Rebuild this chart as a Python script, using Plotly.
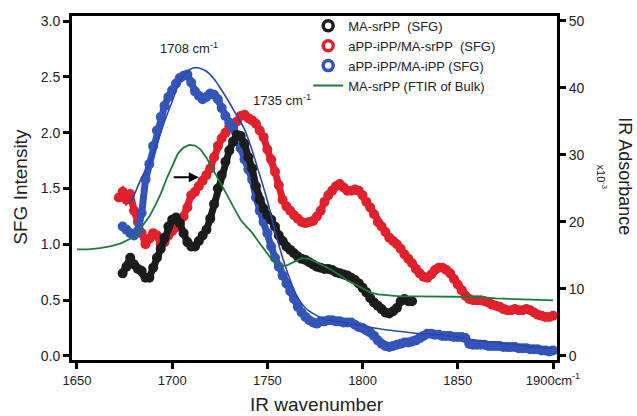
import plotly.graph_objects as go

# ---------------- data ----------------
black_x = list(range(1674, 1827, 2))
black_y = [0.74, 0.80, 0.88, 0.82, 0.78, 0.76, 0.70, 0.70, 0.79, 0.88, 0.96, 1.06, 1.16, 1.22, 1.24, 1.19,
           1.10, 1.02, 0.98, 0.98, 1.03, 1.08, 1.13, 1.23, 1.36, 1.50, 1.62, 1.74, 1.84, 1.92, 1.98, 1.97,
           1.90, 1.78, 1.68, 1.52, 1.40, 1.32, 1.26, 1.22, 1.16, 1.08, 1.03, 0.98, 0.95, 0.92, 0.89, 0.87,
           0.86, 0.84, 0.82, 0.80, 0.79, 0.78, 0.78, 0.77, 0.75, 0.74, 0.73, 0.72, 0.70, 0.68, 0.65, 0.61,
           0.57, 0.52, 0.48, 0.45, 0.42, 0.39, 0.38, 0.40, 0.43, 0.49, 0.51, 0.49, 0.49]

red_x = list(range(1672, 1901, 2))
red_y = [1.42, 1.47, 1.40, 1.45, 1.30, 1.20, 1.10, 1.00, 1.05, 1.10, 1.08, 1.00, 1.02, 1.08, 1.12, 1.15,
         1.18, 1.25, 1.33, 1.44, 1.47, 1.52, 1.57, 1.62, 1.68, 1.78, 1.88, 1.95, 2.00, 2.05, 2.08, 2.10,
         2.15, 2.16, 2.13, 2.11, 2.08, 2.02, 1.96, 1.85, 1.76, 1.65, 1.53, 1.40, 1.34, 1.30, 1.26, 1.23,
         1.20, 1.19, 1.20, 1.21, 1.25, 1.30, 1.38, 1.44, 1.48, 1.52, 1.54, 1.51, 1.48, 1.48, 1.49, 1.48,
         1.44, 1.38, 1.33, 1.27, 1.20, 1.16, 1.11, 1.06, 1.03, 1.00, 0.96, 0.91, 0.87, 0.83, 0.78, 0.74,
         0.71, 0.70, 0.73, 0.77, 0.79, 0.79, 0.77, 0.74, 0.69, 0.64, 0.59, 0.54, 0.51, 0.50, 0.50, 0.50,
         0.49, 0.48, 0.46, 0.45, 0.44, 0.42, 0.41, 0.41, 0.42, 0.41, 0.41, 0.42, 0.41, 0.39, 0.37, 0.36,
         0.35, 0.35, 0.36]

blue_x = list(range(1674, 1901, 2))
blue_y = [1.16, 1.13, 1.10, 1.08, 1.12, 1.28, 1.58, 1.72, 1.88, 2.02, 2.14, 2.24, 2.32, 2.38, 2.44, 2.49,
          2.51, 2.52, 2.45, 2.37, 2.33, 2.30, 2.32, 2.35, 2.34, 2.30, 2.22, 2.15, 2.09, 2.04, 1.96, 1.86,
          1.76, 1.67, 1.58, 1.42, 1.30, 1.20, 1.10, 0.98, 0.88, 0.80, 0.72, 0.65, 0.58, 0.51, 0.44, 0.39,
          0.35, 0.32, 0.30, 0.29, 0.31, 0.31, 0.32, 0.32, 0.31, 0.31, 0.30, 0.30, 0.30, 0.28, 0.26, 0.25,
          0.23, 0.21, 0.18, 0.14, 0.11, 0.09, 0.08, 0.09, 0.10, 0.11, 0.12, 0.12, 0.13, 0.14, 0.16, 0.18,
          0.20, 0.20, 0.19, 0.19, 0.18, 0.18, 0.18, 0.17, 0.17, 0.17, 0.16, 0.11, 0.10, 0.10, 0.10, 0.10,
          0.09, 0.09, 0.09, 0.09, 0.08, 0.08, 0.08, 0.08, 0.07, 0.07, 0.07, 0.06, 0.06, 0.06, 0.05, 0.05,
          0.04, 0.05, 0.09]

blue_fit_x = [1678, 1681, 1684, 1688, 1692, 1696, 1700, 1704, 1708, 1711, 1714, 1718, 1722, 1726, 1730,
              1734, 1738, 1742, 1746, 1750, 1754, 1758, 1762, 1766, 1770, 1775, 1780, 1790, 1800, 1810,
              1820, 1830, 1840, 1850, 1860, 1870, 1880, 1890, 1900]
blue_fit_y = [1.37, 1.48, 1.60, 1.72, 1.90, 2.10, 2.28, 2.46, 2.55, 2.58, 2.58, 2.55, 2.48, 2.38, 2.27,
              2.15, 2.03, 1.84, 1.62, 1.39, 1.12, 0.88, 0.68, 0.52, 0.43, 0.37, 0.33, 0.30, 0.27, 0.24,
              0.22, 0.20, 0.19, 0.17, 0.14, 0.12, 0.10, 0.08, 0.07]

green_x = [1650, 1656, 1662, 1668, 1673, 1678, 1682, 1685, 1688, 1691, 1694, 1697, 1700, 1703, 1706,
           1709, 1712, 1715, 1718, 1721, 1724, 1727, 1730, 1733, 1736, 1739, 1742, 1745, 1748, 1751,
           1754, 1757, 1760, 1764, 1768, 1772, 1776, 1780, 1784, 1788, 1792, 1796, 1800, 1804, 1808,
           1813, 1820, 1830, 1840, 1850, 1860, 1870, 1880, 1890, 1900]
green_y = [15.9, 15.9, 16.1, 16.4, 16.8, 17.5, 18.5, 19.6, 20.8, 22.4, 24.2, 26.4, 28.4, 30.2, 31.1,
           31.5, 31.4, 30.8, 29.6, 28.1, 26.5, 25.0, 23.4, 21.8, 20.3, 19.3, 18.4, 17.2, 16.0, 14.9,
           13.9, 13.4, 13.5, 14.1, 14.6, 14.5, 14.0, 13.4, 12.8, 12.0, 11.3, 10.7, 10.1, 9.5, 9.2,
           9.1, 8.9, 8.9, 8.9, 8.8, 8.8, 8.6, 8.5, 8.4, 8.3]

legend_names = ["MA-srPP  (SFG)", "aPP-iPP/MA-srPP  (SFG)", "aPP-iPP/MA-iPP (SFG)", "MA-srPP (FTIR of Bulk)"]
x_ticks = [1650, 1700, 1750, 1800, 1850, 1900]
x_ticktext = ["1650", "1700", "1750", "1800", "1850", "1900cm<sup>-1</sup>"]
y_ticks = [0.0, 0.5, 1.0, 1.5, 2.0, 2.5, 3.0]
y2_ticks = [0, 10, 20, 30, 40, 50]
peak_labels = [(1708.8, 2.76, "1708 cm<sup>-1</sup>"), (1757.7, 2.29, "1735 cm<sup>-1</sup>")]
shift_arrow = (1700, 1714, 1.6)

BLACK = "#1c1c1c"
RED = "#e0202b"
BLUE = "#3354b8"
BLUE_LINE = "#2a46b0"
GREEN = "#1e7a3a"
FONT = "Liberation Sans, Arial, sans-serif"

fig = go.Figure()

def dots(x, y, color):
    return go.Scatter(x=x, y=y, mode="lines+markers", showlegend=False,
                      line=dict(color=color, width=7),
                      marker=dict(color=color, size=10, line=dict(width=0)))

fig.add_trace(go.Scatter(x=green_x, y=green_y, mode="lines", yaxis="y2", showlegend=False,
                         line=dict(color=GREEN, width=1.8)))
fig.add_trace(dots(red_x, red_y, RED))
fig.add_trace(dots(blue_x, blue_y, BLUE))
fig.add_trace(dots(black_x, black_y, BLACK))
fig.add_trace(go.Scatter(x=blue_fit_x, y=blue_fit_y, mode="lines", showlegend=False,
                         line=dict(color=BLUE_LINE, width=1.6, shape="spline")))

# legend entries
for name, col in zip(legend_names[:3], [BLACK, RED, BLUE]):
    fig.add_trace(go.Scatter(x=[None], y=[None], mode="markers", name=name,
                             marker=dict(symbol="circle-open", color=col, size=10, line=dict(width=3.5, color=col))))
fig.add_trace(go.Scatter(x=[None], y=[None], mode="lines", name=legend_names[3],
                         line=dict(color=GREEN, width=2)))

axis_common = dict(showline=True, linecolor="black", linewidth=3, ticks="outside", ticklen=6,
                   tickwidth=3, tickcolor="black", showgrid=False, zeroline=False,
                   tickfont=dict(family=FONT, size=14, color="#222"))

fig.update_layout(
    width=637, height=416,
    margin=dict(l=72, r=80, t=15, b=56),
    paper_bgcolor="white", plot_bgcolor="white",
    font=dict(family=FONT, color="#222"),
    xaxis=dict(range=[1647.4, 1902.1], tickvals=x_ticks, ticktext=x_ticktext, mirror=True,
               **{**axis_common, "tickfont": dict(family=FONT, size=13, color="#222")}),
    yaxis=dict(range=[-0.036, 3.045], tickvals=y_ticks, ticktext=["%.1f" % v for v in y_ticks], **axis_common),
    yaxis2=dict(range=[-0.6, 50.74], tickvals=y2_ticks, overlaying="y", side="right", **axis_common),
    legend=dict(x=0.487, y=1.012, xanchor="left", yanchor="top", bgcolor="rgba(0,0,0,0)",
                font=dict(family=FONT, size=13, color="#222"), itemwidth=30),
)

annotations = [
    dict(text="SFG Intensity", xref="paper", yref="paper", x=-0.105, y=0.504, textangle=-90,
         showarrow=False, font=dict(family=FONT, size=19, color="#222"), xanchor="center", yanchor="middle"),
    dict(text="IR wavenumber", xref="paper", yref="paper", x=0.505, y=-0.128,
         showarrow=False, font=dict(family=FONT, size=19, color="#222"), xanchor="center", yanchor="middle"),
    dict(text="IR Adsorbance", xref="paper", yref="paper", x=1.141, y=0.533, textangle=90,
         showarrow=False, font=dict(family=FONT, size=18, color="#222"), xanchor="center", yanchor="middle"),
    dict(text="x10<sup>-3</sup>", xref="paper", yref="paper", x=1.093, y=0.533, textangle=90,
         showarrow=False, font=dict(family=FONT, size=11, color="#222"), xanchor="center", yanchor="middle"),
]
for px, py, t in peak_labels:
    annotations.append(dict(text=t, x=px, y=py, xref="x", yref="y", showarrow=False,
                            font=dict(family=FONT, size=13, color="#222")))
annotations.append(dict(x=shift_arrow[1], y=shift_arrow[2], ax=shift_arrow[0], ay=shift_arrow[2],
                        xref="x", yref="y", axref="x", ayref="y", text="", showarrow=True,
                        arrowhead=2, arrowsize=1, arrowwidth=2, arrowcolor="black"))
fig.update_layout(annotations=annotations)

fig.write_html("out.html")
